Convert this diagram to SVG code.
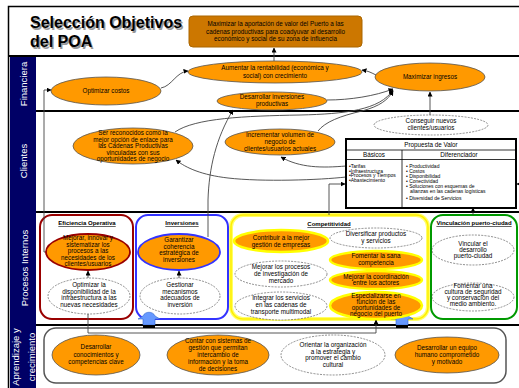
<svg xmlns="http://www.w3.org/2000/svg" width="519" height="388" viewBox="0 0 519 388">
<style>
.t{font-family:"Liberation Sans",Arial,sans-serif;font-size:6.3px;text-anchor:middle;fill:#000}
.ts{font-family:"Liberation Sans",Arial,sans-serif;font-size:5px;fill:#000}
.hd{font-family:"Liberation Sans",Arial,sans-serif;font-size:6px;font-weight:bold;text-anchor:middle;text-decoration:underline;fill:#000}
.side{font-family:"Liberation Sans",Arial,sans-serif;font-size:9.5px;fill:#fff;text-anchor:middle}
.ttl{font-family:"Liberation Sans",Arial,sans-serif;font-size:16px;font-weight:bold}
.o{fill:#FF9900;stroke:#555;stroke-width:0.8}
.d{fill:#fff;stroke:#444;stroke-width:0.6;stroke-dasharray:2 1.2}
.or{fill:#FF9900;stroke:#990000;stroke-width:1.8}
.ob{fill:#FF9900;stroke:#3333FF;stroke-width:1.8}
.oy{fill:#FF9900;stroke:#FFFF00;stroke-width:2.5}
.sep{stroke:#000;stroke-width:2}
.c{fill:none;stroke:#444;stroke-width:0.9}
.ba{fill:#6699FF;stroke:#3366CC;stroke-width:0.6}
</style>
<defs>
<marker id="ah" viewBox="0 0 10 10" refX="9" refY="5" markerWidth="5" markerHeight="5" orient="auto" markerUnits="userSpaceOnUse">
<path d="M0,0 L10,5 L0,10 Z" fill="#000"/>
</marker>
</defs>
<rect x="0" y="0" width="519" height="388" fill="#fff"/>
<!-- frame -->
<rect x="8.5" y="6.5" width="512" height="385" fill="none" stroke="#000" stroke-width="1.5"/>
<!-- sidebar -->
<rect x="10" y="56" width="26" height="332" fill="#000066"/>
<g id="title">
<text class="ttl" x="31.5" y="29.5" fill="#999">Selección Objetivos</text>
<text class="ttl" x="31.5" y="48.5" fill="#999">del POA</text>
<text class="ttl" x="30" y="28" fill="#000">Selección Objetivos</text>
<text class="ttl" x="30" y="47" fill="#000">del POA</text>
</g>
<g id="lanes">
<line class="sep" x1="8" y1="56" x2="519" y2="56"/>
<line class="sep" x1="36" y1="111" x2="519" y2="111"/>
<line class="sep" x1="36" y1="212" x2="519" y2="212"/>
<line class="sep" x1="36" y1="325" x2="519" y2="325"/>
<text class="side" transform="translate(27,84) rotate(-90)">Financiera</text>
<text class="side" transform="translate(27,161) rotate(-90)">Clientes</text>
<text class="side" transform="translate(28,268) rotate(-90)">Procesos Internos</text>
<text class="side" transform="translate(19,357) rotate(-90)">Aprendizaje y</text>
<text class="side" transform="translate(35,357) rotate(-90)">crecimiento</text>
</g>
<!-- group boxes -->
<g id="box-eficiencia">
<rect x="40" y="215" width="93" height="104" rx="12" fill="none" stroke="#990000" stroke-width="2"/>
<text class="hd" x="87" y="225">Eficiencia Operativa</text>
</g>
<g id="box-inversiones">
<rect x="136" y="215" width="92" height="104" rx="12" fill="none" stroke="#3333FF" stroke-width="2"/>
<text class="hd" x="182" y="225">Inversiones</text>
</g>
<g id="box-competitividad">
<rect x="231" y="215" width="197" height="104" rx="12" fill="none" stroke="#FFFF66" stroke-width="4"/>
<rect x="231" y="215" width="197" height="104" rx="12" fill="none" stroke="#FFEE00" stroke-width="1.5"/>
<text class="hd" x="329" y="226">Competitividad</text>
</g>
<g id="box-vinculacion">
<rect x="431" y="215" width="86" height="104" rx="12" fill="none" stroke="#009900" stroke-width="2"/>
<text class="hd" x="474" y="225">Vinculación puerto-ciudad</text>
</g>
<g id="box-aprendizaje">
<rect x="44" y="328" width="462" height="55" rx="12" fill="none" stroke="#555" stroke-width="1.5"/>
</g>
<!-- connectors -->
<g id="connectors">
<path class="c" d="M274,61 L274,48" marker-end="url(#ah)"/>
<path class="c" d="M161,88 C172,86 176,72 188,71" marker-end="url(#ah)"/>
<path class="c" d="M376,75 C370,72 368,71 362,70" marker-end="url(#ah)"/>
<path class="c" d="M327,100 C350,100 375,96 393,89" marker-end="url(#ah)"/>
<path class="c" d="M175,132 C195,118 245,116 300,115 C345,114 380,110 393,90" marker-end="url(#ah)"/>
<path class="c" d="M318,131 C325,122 340,116 362,111 C380,106 388,100 393,91" marker-end="url(#ah)"/>
<path class="c" d="M430,115 L430,92" marker-end="url(#ah)"/>
<path class="c" d="M208,237 L208,200 C209,168 216,138 233,110" marker-end="url(#ah)"/>
<path class="c" d="M47,252 L44,252 L44,90 L51,90" marker-end="url(#ah)"/>
<path class="c" d="M346,177 C320,180 262,182 228,178 C202,175 186,168 176,160" marker-end="url(#ah)"/>
<path class="c" d="M346,166 C322,168 300,168 281,157" marker-end="url(#ah)"/>
<path class="c" d="M329,215 L329,184 L345,184" marker-end="url(#ah)"/>
<path class="c" d="M88,278 L88,271" marker-end="url(#ah)"/>
<path class="c" d="M179,278 L179,271" marker-end="url(#ah)"/>
<path class="c" d="M88,314 L88,333 L376,333 L376,320" marker-end="url(#ah)"/>
<path class="c" d="M473,215 L473,208" marker-end="url(#ah)"/>
<path class="c" d="M521,184 L517,184" marker-end="url(#ah)"/>
<path class="ba" d="M138,319 L143,316 C145,311 153,311 155,316 L160,319 L155,319 L155,325 L143,325 L143,319 Z"/>
<rect x="143" y="325" width="12" height="3" fill="#000"/>
<path class="ba" d="M391,319 L396,316 C398,311 406,311 408,316 L413,319 L408,319 L408,325 L396,325 L396,319 Z"/>
<rect x="396" y="325" width="12" height="3" fill="#000"/>
</g>
<!-- Financiera -->
<g id="n-maximizar-aportacion">
<rect x="189" y="16" width="173" height="31" rx="4" fill="#CC7700" stroke="#AA6600" stroke-width="1"/>
<text class="t" x="275.5" y="26">Maximizar la aportación de valor del Puerto a las</text>
<text class="t" x="275.5" y="33.5">cadenas productivas para coadyuvar al desarrollo</text>
<text class="t" x="275.5" y="41">económico y social de su zona de influencia</text>
</g>
<g id="n-aumentar">
<ellipse class="o" cx="275" cy="72" rx="87" ry="11"/>
<text class="t" x="275" y="70">Aumentar la rentabilidad (económica y</text>
<text class="t" x="275" y="77.5">social) con crecimiento</text>
</g>
<g id="n-optimizar-costos">
<ellipse class="o" cx="106" cy="91" rx="55" ry="14"/>
<text class="t" x="106" y="93">Optimizar costos</text>
</g>
<g id="n-desarrollar-inversiones">
<ellipse class="o" cx="272" cy="101" rx="55" ry="9"/>
<text class="t" x="272" y="99">Desarrollar inversiones</text>
<text class="t" x="272" y="106">productivas</text>
</g>
<g id="n-maximizar-ingresos">
<ellipse class="o" cx="430" cy="77" rx="55" ry="14"/>
<text class="t" x="430" y="79">Maximizar ingresos</text>
</g>
<!-- Clientes -->
<g id="n-ser-reconocidos">
<ellipse class="o" cx="133" cy="146" rx="60" ry="18"/>
<text class="t" x="133" y="135">Ser reconocidos como la</text>
<text class="t" x="133" y="141.5">mejor opción de enlace para</text>
<text class="t" x="133" y="148">las Cadenas Productivas</text>
<text class="t" x="133" y="154.5">vinculadas con sus</text>
<text class="t" x="133" y="161">oportunidades de negocio</text>
</g>
<g id="n-incrementar">
<ellipse class="o" cx="280" cy="142" rx="55" ry="13"/>
<text class="t" x="280" y="137">Incrementar volumen de</text>
<text class="t" x="280" y="144">negocio de</text>
<text class="t" x="280" y="151">clientes/usuarios actuales</text>
</g>
<g id="n-conseguir">
<ellipse class="d" cx="431" cy="125" rx="57" ry="10"/>
<text class="t" x="431" y="123">Conseguir nuevos</text>
<text class="t" x="431" y="130">clientes/usuarios</text>
</g>
<g id="n-propuesta-valor">
<rect x="346" y="139" width="170" height="69" fill="#fff" stroke="#000" stroke-width="2"/>
<line x1="346" y1="150" x2="516" y2="150" stroke="#000" stroke-width="0.8"/>
<line x1="346" y1="159.5" x2="516" y2="159.5" stroke="#000" stroke-width="0.8"/>
<line x1="402" y1="150" x2="402" y2="208" stroke="#000" stroke-width="0.8"/>
<text class="t" x="431" y="147">Propuesta de Valor</text>
<text class="t" x="374" y="157">Básicos</text>
<text class="t" x="459" y="157">Diferenciador</text>
<text class="ts" x="349" y="168">•Tarifas</text>
<text class="ts" x="349" y="172.5">•Infraestructura</text>
<text class="ts" x="349" y="177">•Procesos y Tiempos</text>
<text class="ts" x="349" y="181.5">•Abastecimiento</text>
<text class="ts" x="406" y="168">• Productividad</text>
<text class="ts" x="406" y="173">• Costos</text>
<text class="ts" x="406" y="178">• Disponibilidad</text>
<text class="ts" x="406" y="183">• Conectividad</text>
<text class="ts" x="406" y="188">• Soluciones con esquemas de</text>
<text class="ts" x="410" y="193">alianzas en las cadenas logísticas</text>
<text class="ts" x="406" y="200">• Diversidad de Servicios</text>
</g>
<!-- Procesos internos -->
<g id="n-mejorar-innovar">
<ellipse class="or" cx="88" cy="252" rx="42" ry="18"/>
<text class="t" x="88" y="240">Mejorar, innovar y</text>
<text class="t" x="88" y="246.5">sistematizar los</text>
<text class="t" x="88" y="253">procesos a las</text>
<text class="t" x="88" y="259.5">necesidades de los</text>
<text class="t" x="88" y="266">clientes/usuarios</text>
</g>
<g id="n-optimizar-disponibilidad">
<ellipse class="d" cx="89" cy="296" rx="41" ry="18"/>
<text class="t" x="89" y="287">Optimizar la</text>
<text class="t" x="89" y="293.5">disponibilidad de la</text>
<text class="t" x="89" y="300">infraestructura a las</text>
<text class="t" x="89" y="306.5">nuevas necesidades</text>
</g>
<g id="n-garantizar">
<ellipse class="ob" cx="179" cy="252" rx="41" ry="18"/>
<text class="t" x="179" y="242">Garantizar</text>
<text class="t" x="179" y="248.5">coherencia</text>
<text class="t" x="179" y="255">estratégica de</text>
<text class="t" x="179" y="261.5">inversiones</text>
</g>
<g id="n-gestionar">
<ellipse class="d" cx="180" cy="296" rx="40" ry="18"/>
<text class="t" x="180" y="287">Gestionar</text>
<text class="t" x="180" y="293.5">mecanismos</text>
<text class="t" x="180" y="300">adecuados de</text>
<text class="t" x="180" y="306.5">inversión</text>
</g>
<g id="n-contribuir">
<ellipse class="oy" cx="281" cy="241" rx="47" ry="11"/>
<text class="t" x="281" y="240">Contribuir a la mejor</text>
<text class="t" x="281" y="247">gestión de empresas</text>
</g>
<g id="n-mejorar-investigacion">
<ellipse class="d" cx="281" cy="274" rx="46" ry="13"/>
<text class="t" x="281" y="269">Mejorar los procesos</text>
<text class="t" x="281" y="276">de investigación de</text>
<text class="t" x="281" y="283">mercado</text>
</g>
<g id="n-integrar">
<ellipse class="d" cx="281" cy="306" rx="46" ry="14"/>
<text class="t" x="281" y="300">Integrar los servicios</text>
<text class="t" x="281" y="307">en las cadenas de</text>
<text class="t" x="281" y="314">transporte multimodal</text>
</g>
<g id="n-diversificar">
<ellipse class="d" cx="376" cy="238" rx="46" ry="10"/>
<text class="t" x="376" y="236">Diversificar productos</text>
<text class="t" x="376" y="243">y servicios</text>
</g>
<g id="n-fomentar-competencia">
<ellipse class="oy" cx="376" cy="260" rx="46" ry="9"/>
<text class="t" x="376" y="258">Fomentar la sana</text>
<text class="t" x="376" y="265">competencia</text>
</g>
<g id="n-mejorar-coordinacion">
<ellipse class="oy" cx="376" cy="280" rx="46" ry="9"/>
<text class="t" x="376" y="278.5">Mejorar la coordinación</text>
<text class="t" x="376" y="285">entre los actores</text>
</g>
<g id="n-especializarse">
<ellipse class="oy" cx="376" cy="305.5" rx="46" ry="13.5"/>
<text class="t" x="376" y="298">Especializarse en</text>
<text class="t" x="376" y="304">función de las</text>
<text class="t" x="376" y="310">oportunidades de</text>
<text class="t" x="376" y="316">negocio del puerto</text>
</g>
<g id="n-vincular">
<ellipse class="d" cx="473" cy="250" rx="41" ry="15"/>
<text class="t" x="473" y="246">Vincular el</text>
<text class="t" x="473" y="252">desarrollo</text>
<text class="t" x="473" y="258">puerto-ciudad</text>
</g>
<g id="n-fomentar-cultura">
<ellipse class="d" cx="473" cy="297" rx="41" ry="14"/>
<text class="t" x="473" y="288">Fomentar una</text>
<text class="t" x="473" y="294">cultura de seguridad</text>
<text class="t" x="473" y="300">y conservación del</text>
<text class="t" x="473" y="306">medio ambiento.</text>
</g>
<!-- Aprendizaje -->
<g id="n-desarrollar-conocimientos">
<ellipse class="o" cx="96" cy="355" rx="44" ry="20"/>
<text class="t" x="96" y="349">Desarrollar</text>
<text class="t" x="96" y="356.5">conocimientos y</text>
<text class="t" x="96" y="364">competencias clave</text>
</g>
<g id="n-contar-sistemas">
<ellipse class="o" cx="218" cy="355" rx="51" ry="20"/>
<text class="t" x="218" y="343">Contar con sistemas de</text>
<text class="t" x="218" y="350">gestión que permitan</text>
<text class="t" x="218" y="357">intercambio de</text>
<text class="t" x="218" y="364">información y la toma</text>
<text class="t" x="218" y="371">de decisiones</text>
</g>
<g id="n-orientar">
<ellipse class="d" cx="333" cy="355" rx="52" ry="20"/>
<text class="t" x="333" y="347">Orientar la organización</text>
<text class="t" x="333" y="353.5">a la estrategia y</text>
<text class="t" x="333" y="360">promover el cambio</text>
<text class="t" x="333" y="366.5">cultural</text>
</g>
<g id="n-desarrollar-equipo">
<ellipse class="o" cx="447" cy="355" rx="52" ry="18"/>
<text class="t" x="447" y="350">Desarrollar un equipo</text>
<text class="t" x="447" y="357">humano comprometido</text>
<text class="t" x="447" y="364">y motivado</text>
</g>
</svg>
